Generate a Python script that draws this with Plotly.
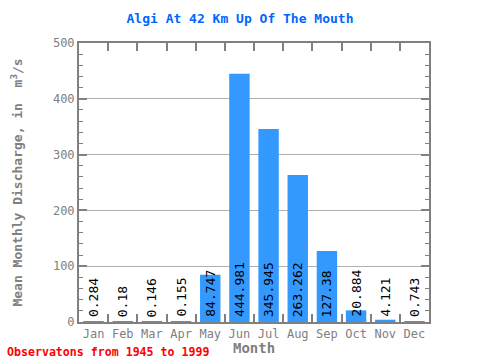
import plotly.graph_objects as go

months = ["Jan", "Feb", "Mar", "Apr", "May", "Jun", "Jul", "Aug", "Sep", "Oct", "Nov", "Dec"]
discharge = [0.284, 0.18, 0.146, 0.155, 84.747, 444.981, 345.945, 263.262, 127.38, 20.884, 4.121, 0.743]
labels = ["0.284", "0.18", "0.146", "0.155", "84.747", "444.981", "345.945", "263.262", "127.38", "20.884", "4.121", "0.743"]

FONT = "DejaVu Sans Mono"
GRAY = "#808080"

fig = go.Figure()
fig.add_trace(go.Bar(x=months, y=discharge, marker=dict(color="#3399ff", line=dict(width=0)),
                     width=0.7, hoverinfo="x+y"))

for m, lab in zip(months, labels):
    fig.add_annotation(x=m, y=0, text=lab, textangle=-90, showarrow=False,
                       xanchor="center", yanchor="bottom", yshift=3,
                       font=dict(family=FONT, size=13, color="black"))

fig.add_annotation(xref="paper", yref="paper", x=-0.2114, y=-0.108, xanchor="left", yanchor="middle",
                   text="<b>Observatons from 1945 to 1999</b>", showarrow=False,
                   font=dict(family=FONT, size=11.6, color="#ff0000"))
fig.add_annotation(xref="paper", yref="paper", x=0.5, y=-0.094, xanchor="center", yanchor="middle",
                   text="<b>Month</b>", showarrow=False,
                   font=dict(family=FONT, size=14, color=GRAY))

fig.update_layout(
    width=480, height=360,
    margin=dict(l=79, r=51, t=43, b=38, autoexpand=False),
    paper_bgcolor="white", plot_bgcolor="white",
    title=dict(text="<b>Algi At 42 Km Up Of The Mouth</b>", x=0.5, xanchor="center", y=0.95, yanchor="middle",
               font=dict(family=FONT, size=13, color="#0066ff")),
    showlegend=False, bargap=0.3,
    font=dict(family=FONT, color=GRAY),
)
fig.update_xaxes(
    tickfont=dict(family=FONT, size=12, color=GRAY), tickangle=0, automargin=False,
    showline=True, linecolor=GRAY, linewidth=2, mirror="ticks",
    ticks="inside", ticklen=8, tickcolor=GRAY, tickwidth=2, tickson="boundaries",
    showgrid=False, range=[-0.5, 11.5],
)
fig.update_yaxes(
    title=dict(text="<b>Mean Monthly Discharge, in  m<sup>3</sup>/s</b>", font=dict(family=FONT, size=13, color=GRAY), standoff=27),
    tickfont=dict(family=FONT, size=12, color=GRAY), automargin=False,
    range=[0, 500], dtick=100,
    showline=True, linecolor=GRAY, linewidth=2, mirror="ticks",
    ticks="inside", ticklen=8, tickcolor=GRAY, tickwidth=2,
    minor=dict(dtick=20, ticks="inside", ticklen=4, tickcolor=GRAY, tickwidth=1, showgrid=False),
    showgrid=True, gridcolor="#b0b0b0", gridwidth=1, zeroline=False,
)

fig.write_html("out.html", config={"displayModeBar": False},
               post_script="document.body.style.margin='0';")
